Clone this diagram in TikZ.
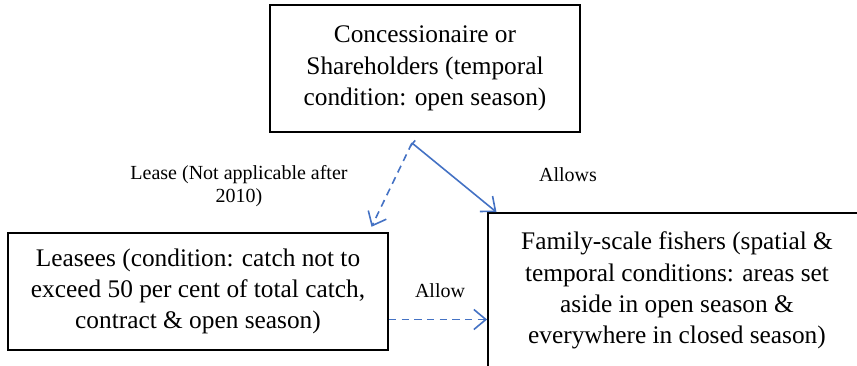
\documentclass[tikz,border=0pt]{standalone}
\usepackage{fontspec}
\setmainfont{Liberation Serif}
\usepackage{tikz}
\usetikzlibrary{arrows.meta,positioning}

\definecolor{linkblue}{RGB}{68,114,196}
\newcommand{\boxfont}{\fontsize{19}{23.5}\selectfont}
\newcommand{\lblfont}{\fontsize{15}{17}\selectfont}

\begin{document}
\begin{tikzpicture}[x=0.75pt, y=-0.75pt,
        box/.style={draw, line width=1.3pt, align=center, font=\boxfont, inner sep=0pt},
        lbl/.style={align=center, font=\lblfont},
        link/.style={linkblue, line width=1.2pt, -{Straight Barb[length=9pt,width=15pt]}},
        dashlink/.style={link, dash pattern=on 5.5pt off 4pt}]
        \useasboundingbox (0,0) rectangle (857,366);

        \node (C) [box, minimum width=232.5pt, minimum height=95.25pt] at (425,68.5)
            {Concessionaire or\\Shareholders (temporal\\condition: open season)};
        \node (L) [box, minimum width=285pt, minimum height=87.75pt] at (198,291.5)
            {Leasees (condition: catch not to\\exceed 50 per cent of total catch,\\contract \& open season)};
        \node (F) [box, minimum width=283.5pt, minimum height=116.25pt] at (677,290.5)
            {Family-scale fishers (spatial \&\\temporal conditions: areas set\\aside in open season \&\\everywhere in closed season)};

        \coordinate (fork) at (412,143);
        \node (lease) [lbl] at (239,186) {Lease (Not applicable after\\2010)};
        \node (allows) [lbl] at (568,175) {Allows};
        \node (allow) [lbl] at (440,291) {Allow};

        \draw[dashlink] (fork) -- ([shift={(-13pt,4pt)}]L.north east);
        \draw[link, {Bar[width=6pt]}-{Straight Barb[length=9pt,width=15pt]}] (fork) -- ([xshift=7pt]F.north west);
        \draw[dashlink] ([yshift=-21pt]L.east) -- ([yshift=-21pt]L.east -| F.west);
    \end{tikzpicture}
\end{document}
